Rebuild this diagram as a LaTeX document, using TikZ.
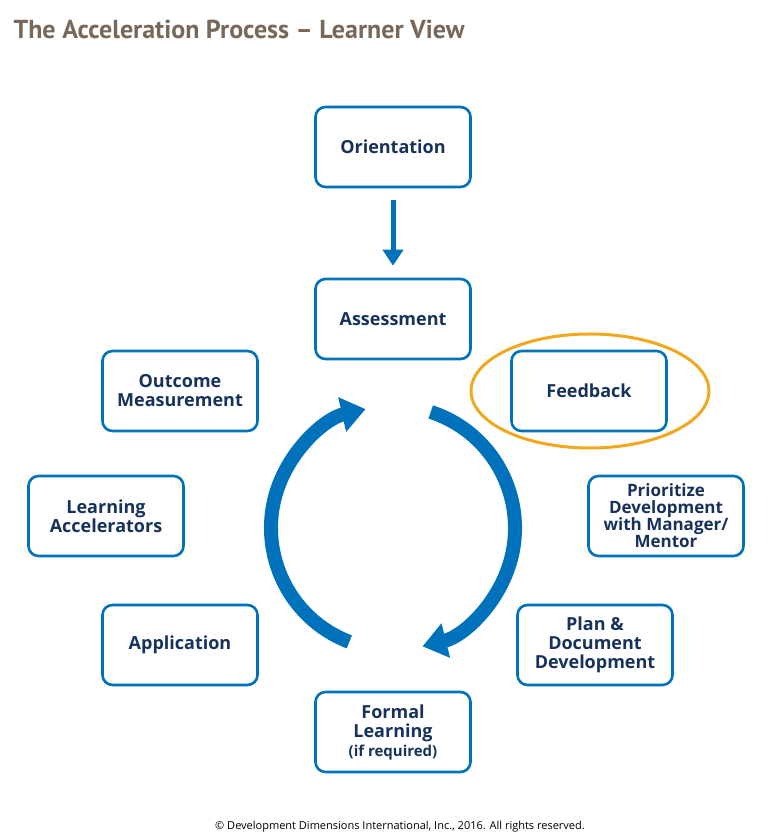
\documentclass[tikz,border=0pt]{standalone}
\usepackage{fontspec}
\setmainfont{Open Sans}
\newfontfamily\titlefont{PT Sans}
\usetikzlibrary{arrows.meta,calc}
\definecolor{ddiblue}{RGB}{0,114,188}
\definecolor{ddinavy}{RGB}{22,50,92}
\definecolor{ddititle}{RGB}{120,104,90}
\definecolor{ddiorange}{RGB}{240,168,30}
\begin{document}
\begin{tikzpicture}[x=1pt,y=1pt,
  stagebox/.style={draw=ddiblue,line width=2.6pt,rounded corners=10pt,minimum width=155pt,minimum height=80pt,align=center,text=ddinavy,font=\bfseries\fontsize{18}{19}\selectfont,inner sep=2pt},
  cyc/.style={draw=ddiblue,line width=14pt,-{Triangle[length=24pt,width=34pt]}}]
\useasboundingbox (0,0) rectangle (768,839);
\node[anchor=west,text=ddititle,font=\titlefont\bfseries\fontsize{26}{28}\selectfont] (title) at (10,810) {The Acceleration Process – Learner View};
\node[stagebox] (ori) at (393,692) {Orientation};
\node[stagebox] (ass) at (393,520) {Assessment};
\node[stagebox] (fb) at (589,448) {Feedback};
\draw[ddiorange,line width=3pt] (590,448) ellipse (119pt and 57pt);
\node[stagebox,font=\bfseries\fontsize{17}{17}\selectfont] (pri) at (666,323) {Prioritize\\Development\\with Manager/\\Mentor};
\node[stagebox] (plan) at (595,194) {Plan \&\\Document\\Development};
\node[stagebox] (fl) at (393,107) {Formal\\Learning\\{\fontsize{15}{16}\selectfont(if required)}};
\node[stagebox] (app) at (180,194) {Application};
\node[stagebox] (la) at (106,323) {Learning\\Accelerators};
\node[stagebox] (om) at (180,448) {Outcome\\Measurement};
\draw[ddiblue,line width=5pt,-{Triangle[length=16pt,width=20pt]}] ([yshift=-12pt]ori.south) -- ([yshift=12pt]ass.north);
\coordinate (cc) at (393,311);
\draw[cyc] ($(cc)+(72:122)$) arc[start angle=72,end angle=-76,radius=122pt];
\draw[cyc] ($(cc)+(249:122)$) arc[start angle=249,end angle=103,radius=122pt];
\node[font=\fontsize{11}{12}\selectfont,text=black] (foot) at (400,12) {\textcopyright{} Development Dimensions International, Inc., 2016. All rights reserved.};
\end{tikzpicture}
\end{document}
